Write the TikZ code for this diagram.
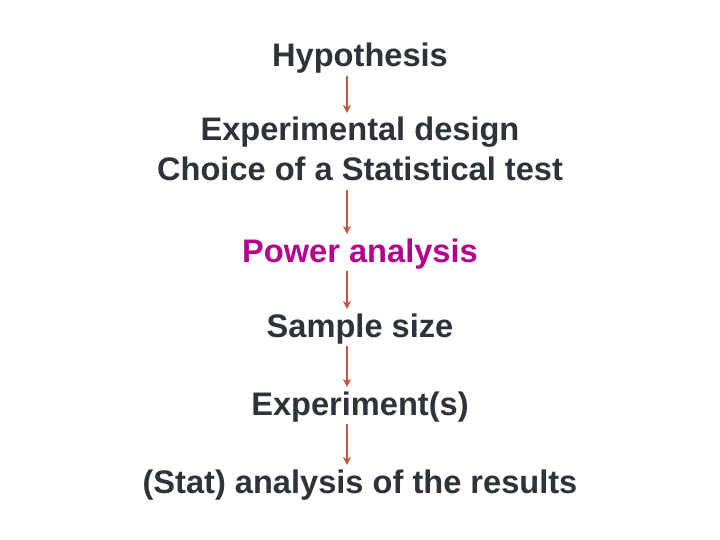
\documentclass[tikz,border=0pt]{standalone}
\usepackage{fontspec}
\setmainfont{Liberation Sans}
\usetikzlibrary{positioning}
\usetikzlibrary{arrows.meta}
\definecolor{slate}{HTML}{2D3339}
\definecolor{plum}{HTML}{B5008E}
\definecolor{rust}{HTML}{C4553F}
\tikzstyle{step_txt} = [inner sep=0pt, outer sep=0pt, text height=23pt, text depth=7pt, text=slate, font=\fontsize{32.6}{32.6}\selectfont\bfseries]
\tikzstyle{flow} = [draw=rust, line width=1.4pt, -{Stealth[length=8pt,width=8pt,inset=2.5pt]}, shorten <=2pt, shorten >=5pt]

\begin{document}
\begin{tikzpicture}[x=1pt, y=-1pt]
\useasboundingbox (0,0) rectangle (720,540);

% Steps
\node[step_txt, anchor=base]             (hyp)    at (360,67) {Hypothesis};
\node[step_txt, below = 44pt of hyp]     (design) {Experimental design};
\node[step_txt, below = 10pt of design]  (choice) {Choice of a Statistical test};
\node[step_txt, below = 51pt of choice, text=plum] (power) {Power analysis};
\node[step_txt, below = 45pt of power]   (sample) {Sample size};
\node[step_txt, below = 48pt of sample]  (expe)   {Experiment(s)};
\node[step_txt, below = 48pt of expe]    (stat)   {(Stat) analysis of the results};

% Arrows
\draw[flow] ([xshift=-13pt]hyp.south)    -- ([xshift=-13pt]design.north);
\draw[flow] ([xshift=-13pt]choice.south) -- ([xshift=-13pt]power.north);
\draw[flow] ([xshift=-13pt]power.south)  -- ([xshift=-13pt]sample.north);
\draw[flow] ([xshift=-13pt]sample.south) -- ([xshift=-13pt]expe.north);
\draw[flow] ([xshift=-13pt]expe.south)   -- ([xshift=-13pt]stat.north);
\end{tikzpicture}
\end{document}
